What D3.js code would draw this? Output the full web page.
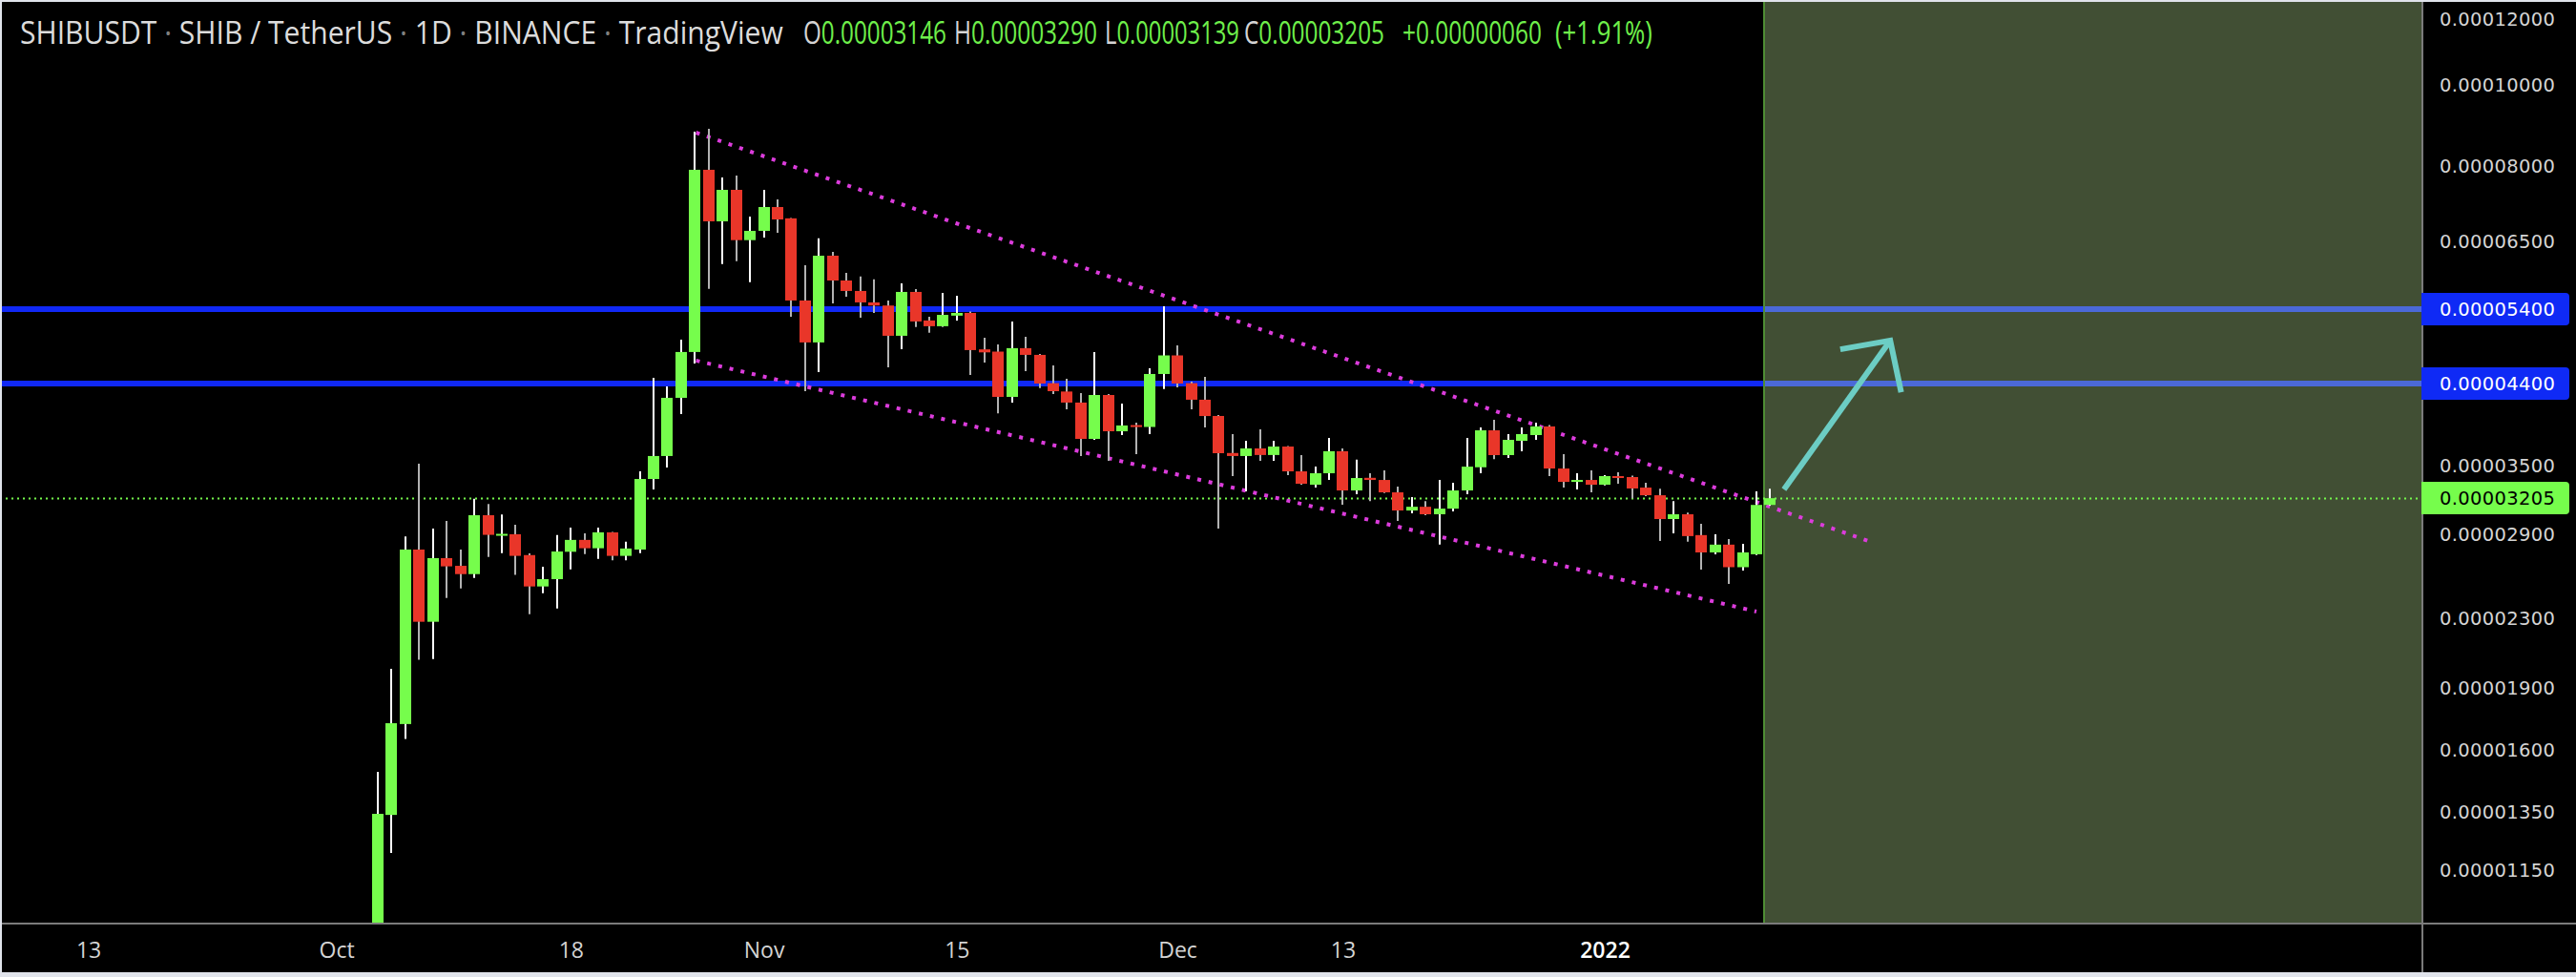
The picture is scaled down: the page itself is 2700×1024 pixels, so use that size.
<!DOCTYPE html>
<html>
<head>
<meta charset="utf-8">
<script src="https://cdn.jsdelivr.net/npm/d3@7"></script>
<style>
  html, body { margin: 0; padding: 0; background: #000; }
  svg { display: block; }
</style>
</head>
<body>
<script>
// daily candles, first one is 4 Oct 2021
const firstDay = Date.UTC(2021, 9, 4);

const opens = [
  0.00000858, 0.00001339, 0.00001720, 0.00002782, 0.00002280, 0.00002717, 0.00002660, 0.00002600, 0.00003058, 0.00002895,
  0.00002902, 0.00002740, 0.00002513, 0.00002564, 0.00002765, 0.00002857, 0.00002792, 0.00002917, 0.00002734, 0.00002782,
  0.00003379, 0.00003600, 0.00004226, 0.00004795, 0.00007922, 0.00006873, 0.00007496, 0.00006526, 0.00006695, 0.00007149,
  0.00006930, 0.00005526, 0.00004923, 0.00006252, 0.00005839, 0.00005673, 0.00005497, 0.00005450, 0.00005014, 0.00005658,
  0.00005230, 0.00005148, 0.00005300, 0.00005340, 0.00004830, 0.00004800, 0.00004237, 0.00004846, 0.00004757, 0.00004400,
  0.00004300, 0.00004171, 0.00003774, 0.00004259, 0.00003854, 0.00003920, 0.00003900, 0.00004513, 0.00004750, 0.00004400,
  0.00004204, 0.00004020, 0.00003630, 0.00003600, 0.00003676, 0.00003610, 0.00003695, 0.00003451, 0.00003326, 0.00003433,
  0.00003648, 0.00003274, 0.00003390, 0.00003370, 0.00003257, 0.00003098, 0.00003130, 0.00003066, 0.00003114, 0.00003274,
  0.00003490, 0.00003864, 0.00003609, 0.00003754, 0.00003814, 0.00003906, 0.00003478, 0.00003352, 0.00003370, 0.00003326,
  0.00003406, 0.00003397, 0.00003300, 0.00003231, 0.00003026, 0.00003066, 0.00002895, 0.00002760, 0.00002820, 0.00002650,
  0.00002746, 0.00003146
];
const highs = [
  0.00001508, 0.00002003, 0.00002885, 0.00003525, 0.00002948, 0.00003010, 0.00002782, 0.00003200, 0.00003153, 0.00003064,
  0.00002979, 0.00002753, 0.00002654, 0.00002895, 0.00002955, 0.00002910, 0.00002955, 0.00002920, 0.00002842, 0.00003451,
  0.00004466, 0.00004361, 0.00004962, 0.00008799, 0.00008869, 0.00007757, 0.00007797, 0.00006964, 0.00007496, 0.00007301,
  0.00006935, 0.00006090, 0.00006558, 0.00006318, 0.00005963, 0.00005903, 0.00005857, 0.00005526, 0.00005793, 0.00005703,
  0.00005285, 0.00005643, 0.00005598, 0.00005360, 0.00004988, 0.00004897, 0.00005216, 0.00005001, 0.00004770, 0.00004621,
  0.00004454, 0.00004281, 0.00004795, 0.00004270, 0.00004160, 0.00003947, 0.00004585, 0.00005440, 0.00004884, 0.00004420,
  0.00004477, 0.00004030, 0.00003824, 0.00003754, 0.00003875, 0.00003754, 0.00003700, 0.00003609, 0.00003496, 0.00003784,
  0.00003676, 0.00003563, 0.00003433, 0.00003460, 0.00003310, 0.00003215, 0.00003180, 0.00003371, 0.00003343, 0.00003784,
  0.00003895, 0.00003978, 0.00003824, 0.00003895, 0.00003947, 0.00003920, 0.00003618, 0.00003433, 0.00003460, 0.00003415,
  0.00003442, 0.00003410, 0.00003343, 0.00003290, 0.00003180, 0.00003080, 0.00002987, 0.00002902, 0.00002864, 0.00002827,
  0.00003265, 0.00003290
];
const lows = [
  0.00000845, 0.00001206, 0.00001651, 0.00002053, 0.00002058, 0.00002435, 0.00002500, 0.00002573, 0.00002726, 0.00002755,
  0.00002594, 0.00002328, 0.00002467, 0.00002365, 0.00002635, 0.00002748, 0.00002712, 0.00002700, 0.00002700, 0.00002755,
  0.00003283, 0.00003488, 0.00004041, 0.00004646, 0.00005707, 0.00006111, 0.00006160, 0.00005813, 0.00006573, 0.00006660,
  0.00005285, 0.00004304, 0.00004537, 0.00005483, 0.00005584, 0.00005271, 0.00005338, 0.00004597, 0.00004833, 0.00005135,
  0.00005056, 0.00005140, 0.00005230, 0.00004501, 0.00004658, 0.00004050, 0.00004171, 0.00004549, 0.00004340, 0.00004270,
  0.00004094, 0.00003600, 0.00003765, 0.00003553, 0.00003814, 0.00003618, 0.00003824, 0.00004331, 0.00004350, 0.00004094,
  0.00003895, 0.00002948, 0.00003406, 0.00003265, 0.00003553, 0.00003553, 0.00003415, 0.00003326, 0.00003300, 0.00003370,
  0.00003148, 0.00003240, 0.00003180, 0.00003250, 0.00003010, 0.00003074, 0.00003058, 0.00002820, 0.00003090, 0.00003240,
  0.00003433, 0.00003570, 0.00003580, 0.00003648, 0.00003764, 0.00003406, 0.00003300, 0.00003283, 0.00003257, 0.00003320,
  0.00003335, 0.00003205, 0.00003223, 0.00002849, 0.00002910, 0.00002842, 0.00002632, 0.00002746, 0.00002530, 0.00002625,
  0.00002740, 0.00003139
];
const closes = [
  0.00001343, 0.00001724, 0.00002782, 0.00002280, 0.00002717, 0.00002656, 0.00002600, 0.00003058, 0.00002897, 0.00002905,
  0.00002734, 0.00002513, 0.00002564, 0.00002767, 0.00002857, 0.00002792, 0.00002917, 0.00002734, 0.00002790, 0.00003379,
  0.00003600, 0.00004226, 0.00004795, 0.00007922, 0.00006873, 0.00007496, 0.00006526, 0.00006695, 0.00007149, 0.00006909,
  0.00005526, 0.00004923, 0.00006252, 0.00005839, 0.00005673, 0.00005497, 0.00005450, 0.00005014, 0.00005658, 0.00005216,
  0.00005148, 0.00005311, 0.00005340, 0.00004820, 0.00004790, 0.00004237, 0.00004846, 0.00004757, 0.00004396, 0.00004304,
  0.00004171, 0.00003774, 0.00004259, 0.00003854, 0.00003916, 0.00003900, 0.00004513, 0.00004750, 0.00004396, 0.00004204,
  0.00004019, 0.00003628, 0.00003600, 0.00003676, 0.00003610, 0.00003695, 0.00003451, 0.00003335, 0.00003433, 0.00003648,
  0.00003274, 0.00003388, 0.00003370, 0.00003257, 0.00003098, 0.00003130, 0.00003066, 0.00003114, 0.00003274, 0.00003496,
  0.00003864, 0.00003609, 0.00003764, 0.00003824, 0.00003906, 0.00003478, 0.00003352, 0.00003370, 0.00003326, 0.00003406,
  0.00003388, 0.00003292, 0.00003231, 0.00003026, 0.00003066, 0.00002887, 0.00002760, 0.00002820, 0.00002650, 0.00002760,
  0.00003146, 0.00003205
];

const priceTicks = [0.00012, 0.0001, 0.00008, 0.000065, 0.000035, 0.000029, 0.000023, 0.000019, 0.000016, 0.0000135, 0.0000115];
const levelLines = [0.000054, 0.000044];
const lastPrice = 0.00003205;

const dateTicks = [
  Date.UTC(2021, 8, 13), Date.UTC(2021, 9, 1), Date.UTC(2021, 9, 18), Date.UTC(2021, 10, 1),
  Date.UTC(2021, 10, 15), Date.UTC(2021, 11, 1), Date.UTC(2021, 11, 13), Date.UTC(2022, 0, 1)
];
const dateTickLabels = ["13", "Oct", "18", "Nov", "15", "Dec", "13", "2022"];

// drawings: [time, price]
const upperTrend = [[Date.UTC(2021, 9, 27, 2), 0.00008776], [Date.UTC(2022, 0, 20, 12), 0.00002834]];
const lowerTrend = [[Date.UTC(2021, 9, 27, 2), 0.00004683], [Date.UTC(2022, 0, 12, 0), 0.00002345]];
const arrowShaft = [[Date.UTC(2022, 0, 14, 0), 0.00003283], [Date.UTC(2022, 0, 21, 17), 0.00004949]];
const arrowHead = [[Date.UTC(2022, 0, 18, 2), 0.00004830], [Date.UTC(2022, 0, 21, 17), 0.00004949], [Date.UTC(2022, 0, 22, 12), 0.00004292]];
const zoneStart = Date.UTC(2022, 0, 12, 13);

const titleParts = ["SHIBUSDT", "SHIB / TetherUS", "1D", "BINANCE", "TradingView"];
const legendKeys = ["O", "H", "L", "C"];
const legendValues = ["0.00003146", "0.00003290", "0.00003139", "0.00003205"];
const changeText = "+0.00000060";
const changePct = "(+1.91%)";

const W = 2700, H = 1024;
const plotRight = 2539, plotBottom = 968;

const green = "#76fd4c", red = "#e93629";

const svg = d3.select("body").append("svg")
    .attr("width", W)
    .attr("height", H);

svg.append("rect").attr("width", W).attr("height", H).attr("fill", "#000");

svg.append("defs").append("clipPath").attr("id", "plotClip")
  .append("rect").attr("x", 0).attr("y", 0).attr("width", plotRight).attr("height", plotBottom);

const x = d3.scaleUtc()
    .domain([firstDay, Date.UTC(2022, 0, 13)])
    .range([396, 1855.4]);

const y = d3.scaleLog()
    .domain([0.00012, 0.0000115])
    .range([20, 912]);

const candles = opens.map((o, i) => ({
  date: d3.utcDay.offset(new Date(firstDay), i),
  o: o, h: highs[i], l: lows[i], c: closes[i]
}));

const plot = svg.append("g").attr("clip-path", "url(#plotClip)");

// horizontal levels
plot.selectAll("line.level")
  .data(levelLines)
  .join("line")
    .attr("class", "level")
    .attr("x1", 0).attr("x2", plotRight)
    .attr("y1", d => Math.round(y(d))).attr("y2", d => Math.round(y(d)))
    .attr("stroke", "#1028f5")
    .attr("stroke-width", 6);

// target zone
const zx = Math.round(x(zoneStart));
plot.append("rect")
    .attr("x", zx).attr("y", -5)
    .attr("width", plotRight - zx).attr("height", plotBottom + 5)
    .attr("fill", "rgb(197,239,158)")
    .attr("fill-opacity", 0.33);
plot.append("line")
    .attr("x1", zx).attr("x2", zx)
    .attr("y1", 0).attr("y2", plotBottom)
    .attr("stroke", "#4e8c34")
    .attr("stroke-width", 2);

// last price line
plot.append("line")
    .attr("x1", 0).attr("x2", plotRight)
    .attr("y1", Math.round(y(lastPrice)) + 0.5).attr("y2", Math.round(y(lastPrice)) + 0.5)
    .attr("stroke", green)
    .attr("stroke-width", 2)
    .attr("stroke-dasharray", "2 4");

// wedge
const trendLine = d3.line().x(d => x(d[0])).y(d => y(d[1]));
plot.selectAll("path.trend")
  .data([upperTrend, lowerTrend])
  .join("path")
    .attr("class", "trend")
    .attr("d", trendLine)
    .attr("fill", "none")
    .attr("stroke", "#dc3cdc")
    .attr("stroke-width", 4)
    .attr("stroke-dasharray", "4 8");

// candles
plot.selectAll("line.wick")
  .data(candles)
  .join("line")
    .attr("class", "wick")
    .attr("x1", d => Math.round(x(d.date))).attr("x2", d => Math.round(x(d.date)))
    .attr("y1", d => y(d.h)).attr("y2", d => y(d.l))
    .attr("stroke", d => d.c >= d.o ? "#ffffff" : "#b2b2b2")
    .attr("stroke-width", 2);

plot.selectAll("rect.body")
  .data(candles)
  .join("rect")
    .attr("class", "body")
    .attr("x", d => Math.round(x(d.date)) - 6)
    .attr("width", 12)
    .attr("y", d => y(Math.max(d.o, d.c)))
    .attr("height", d => Math.max(2, y(Math.min(d.o, d.c)) - y(Math.max(d.o, d.c))))
    .attr("fill", d => d.c >= d.o ? green : red);

// arrow
plot.selectAll("path.arrow")
  .data([arrowShaft, arrowHead])
  .join("path")
    .attr("class", "arrow")
    .attr("d", trendLine)
    .attr("fill", "none")
    .attr("stroke", "#6ccdc4")
    .attr("stroke-width", 6)
    .attr("stroke-linejoin", "miter");

// axis panels
svg.append("rect").attr("x", plotRight).attr("y", 0).attr("width", W - plotRight).attr("height", H).attr("fill", "#000");
svg.append("rect").attr("x", 0).attr("y", plotBottom).attr("width", W).attr("height", H - plotBottom).attr("fill", "#000");
svg.append("line")
    .attr("x1", plotRight).attr("x2", plotRight).attr("y1", 0).attr("y2", H)
    .attr("stroke", "#7b7b7b").attr("stroke-width", 2);
svg.append("line")
    .attr("x1", 0).attr("x2", W).attr("y1", plotBottom).attr("y2", plotBottom)
    .attr("stroke", "#7b7b7b").attr("stroke-width", 2);

// price axis
const yAxis = svg.append("g")
    .attr("transform", `translate(${plotRight},0)`)
    .call(d3.axisRight(y).tickValues(priceTicks).tickFormat(d3.format(".8f")).tickSize(0).tickPadding(18));
yAxis.select(".domain").remove();
yAxis.selectAll("text")
    .attr("fill", "#d4d4d4")
    .style("font-family", "'DejaVu Sans', Verdana, sans-serif")
    .style("font-size", "19.5px")
    .style("letter-spacing", "0.35px");

// price labels
const boxes = levelLines.map(v => ({ v: v, bg: "#0f2af5", fg: "#ffffff" }))
  .concat([{ v: lastPrice, bg: green, fg: "#000000" }]);
const boxG = svg.selectAll("g.pbox")
  .data(boxes)
  .join("g")
    .attr("class", "pbox")
    .attr("transform", d => `translate(${plotRight - 1},${Math.round(y(d.v))})`);
boxG.append("rect")
    .attr("x", 0).attr("y", -17).attr("width", 155).attr("height", 34)
    .attr("rx", 4).attr("fill", d => d.bg);
boxG.append("rect")
    .attr("x", 0).attr("y", -17).attr("width", 10).attr("height", 34)
    .attr("fill", d => d.bg);
boxG.append("text")
    .attr("x", 19).attr("dy", "0.36em")
    .attr("fill", d => d.fg)
    .style("font-family", "'DejaVu Sans', Verdana, sans-serif")
    .style("font-size", "19.5px")
    .style("letter-spacing", "0.35px")
    .text(d => d3.format(".8f")(d.v));

// time axis
const xAxis = svg.append("g")
    .attr("transform", `translate(0,${plotBottom})`)
    .call(d3.axisBottom(x).tickValues(dateTicks.map(d => new Date(d)))
      .tickFormat((d, i) => dateTickLabels[i]).tickSize(0).tickPadding(20));
xAxis.select(".domain").remove();
xAxis.selectAll("text")
    .attr("fill", (d, i) => dateTickLabels[i] === "2022" ? "#ffffff" : "#d4d4d4")
    .style("font-family", "'Open Sans', 'Noto Sans', sans-serif")
    .style("font-size", "23px")
    .style("font-weight", (d, i) => dateTickLabels[i] === "2022" ? 600 : 400);

// legend: narrow glyphs, squeezed horizontally to the widths seen in the picture
const font = "'Open Sans', 'Noto Sans', sans-serif";
function squeezed(x0, width) {
  const t = svg.append("text")
      .attr("x", 0).attr("y", 0)
      .style("font-family", font)
      .style("font-size", "32px");
  t.fit = () => {
    const w = t.node().getComputedTextLength();
    t.attr("transform", `translate(${x0},46) scale(${width / w},1)`);
    return t;
  };
  return t;
}

const title = squeezed(21, 800);
titleParts.forEach((t, i) => {
  if (i > 0) title.append("tspan").attr("fill", "#808080").text(" · ");
  title.append("tspan").attr("fill", "#dcdcdc").text(t);
});
title.fit();

const legendX = [842, 1000, 1158, 1304];
const legendW = [150, 150, 141, 147];
legendKeys.forEach((k, i) => {
  const t = squeezed(legendX[i], legendW[i]);
  t.append("tspan").attr("fill", "#d4d4d4").text(k);
  t.append("tspan").attr("fill", "#6ff04b").text(legendValues[i]);
  t.fit();
});
const chg = squeezed(1470, 146);
chg.attr("fill", "#6ff04b").text(changeText);
chg.fit();
const pct = squeezed(1630, 102);
pct.attr("fill", "#6ff04b").text(changePct);
pct.fit();

// outer frame
svg.append("rect").attr("x", 0).attr("y", 0).attr("width", W).attr("height", 2).attr("fill", "#e0e3eb");
svg.append("rect").attr("x", 0).attr("y", 0).attr("width", 2).attr("height", H).attr("fill", "#e0e3eb");
svg.append("rect").attr("x", 0).attr("y", 1019).attr("width", W).attr("height", 5).attr("fill", "#e0e3eb");
</script>
</body>
</html>
